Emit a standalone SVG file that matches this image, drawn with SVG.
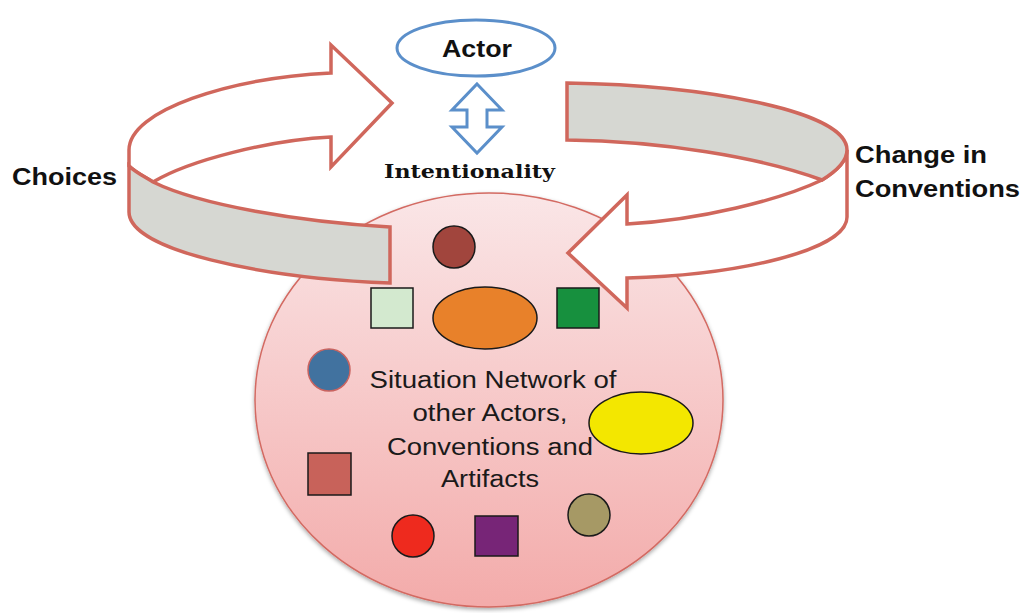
<svg xmlns="http://www.w3.org/2000/svg" width="1024" height="613" viewBox="0 0 1024 613">
<defs>
<linearGradient id="pinkGrad" x1="0" y1="0" x2="0" y2="1">
<stop offset="0" stop-color="#fae6e7"/>
<stop offset="1" stop-color="#f3abaa"/>
</linearGradient>
<filter id="shadow" x="-10%" y="-10%" width="120%" height="125%">
<feDropShadow dx="0" dy="2" stdDeviation="2" flood-color="#000" flood-opacity="0.35"/>
</filter>
<style>
.band{stroke:#d0675c;stroke-width:3.5;stroke-linejoin:miter}
.white{fill:#ffffff}
.gray{fill:#d6d7d2}
.shape{stroke:#1a1a1a;stroke-width:1.5}
.lbl{font-family:"Liberation Sans",Arial,sans-serif;font-weight:bold;font-size:23px;fill:#111}
.inner{font-family:"Liberation Sans",Arial,sans-serif;font-size:23px;fill:#1a1a1a;text-anchor:middle}
.blue{fill:#fff;stroke:#5b8fca;stroke-width:3}
</style>
</defs>
<rect width="1024" height="613" fill="#ffffff"/>

<g id="network">
<ellipse cx="489" cy="400" rx="234" ry="207" fill="url(#pinkGrad)" stroke="#d36a62" stroke-width="1.5" filter="url(#shadow)"/>
</g>

<g id="connectors">
<g id="choices-arrow">
<path class="band white" d="M331,73 L331,45 L392,103 L331,167 L331,137 C270,140 190,160 153,182 C145,177 135,172 129,166 L129,150 C129,110 230,78 331,73 Z"/>
<path class="band gray" d="M129,166 C135,172 145,177 153,182 C200,205 300,222 390,227 L390,283 C260,278 129,250 129,212 Z"/>
</g>
<g id="change-arrow">
<path class="band white" d="M627,224 C700,220 780,200 822,180 C835,172 847,162 847,150 L847,217 C847,250 740,275 627,278 L627,308 L568,253 L627,195 Z"/>
<path class="band gray" d="M567,83 L567,140 C660,141 760,157 822,180 C835,172 847,162 847,150 C847,110 700,85 567,83 Z"/>
</g>
<g id="intentionality-arrow">
<path class="blue" d="M477,84 L502,110 L487,110 L487,127 L502,127 L477,153 L452,127 L467,127 L467,110 L452,110 Z"/>
</g>
</g>

<g id="actor">
<ellipse class="blue" cx="476" cy="48" rx="79" ry="28"/>
<text class="lbl" x="442" y="57" textLength="70" lengthAdjust="spacingAndGlyphs">Actor</text>
</g>

<g id="intentionality">
<text x="384" y="178" textLength="171" lengthAdjust="spacingAndGlyphs" style="font-family:'DejaVu Serif','Liberation Serif',serif;font-weight:bold;font-size:19px;fill:#111">Intentionality</text>
</g>

<g id="choices">
<text class="lbl" x="12" y="185" textLength="105" lengthAdjust="spacingAndGlyphs">Choices</text>
</g>

<g id="change-in-conventions">
<text class="lbl" x="855" y="163" textLength="132" lengthAdjust="spacingAndGlyphs">Change in</text>
<text class="lbl" x="855" y="197" textLength="165" lengthAdjust="spacingAndGlyphs">Conventions</text>
</g>

<g id="elements">
<circle class="shape" cx="454" cy="247" r="21" fill="#a1453d"/>
<rect class="shape" x="371" y="288" width="42" height="40" fill="#d3e9cf"/>
<ellipse class="shape" cx="485" cy="318" rx="52" ry="31" fill="#e8812a"/>
<rect class="shape" x="557" y="288" width="42" height="40" fill="#17903e"/>
<circle cx="329" cy="370" r="21" fill="#41729f" stroke="#c96460" stroke-width="1.5"/>
<ellipse class="shape" cx="641" cy="423" rx="52" ry="31" fill="#f3e700"/>
<rect class="shape" x="308" y="453" width="43" height="42" fill="#c8625a"/>
<circle class="shape" cx="413" cy="536" r="21" fill="#ee2a1e"/>
<rect class="shape" x="475" y="516" width="43" height="40" fill="#772577"/>
<circle class="shape" cx="589" cy="515" r="21" fill="#a69965"/>
</g>

<g id="network-label">
<text class="inner" x="493" y="388" textLength="247" lengthAdjust="spacingAndGlyphs">Situation Network of</text>
<text class="inner" x="490" y="421" textLength="155" lengthAdjust="spacingAndGlyphs">other Actors,</text>
<text class="inner" x="490" y="455" textLength="206" lengthAdjust="spacingAndGlyphs">Conventions and</text>
<text class="inner" x="490" y="487" textLength="98" lengthAdjust="spacingAndGlyphs">Artifacts</text>
</g>
</svg>
